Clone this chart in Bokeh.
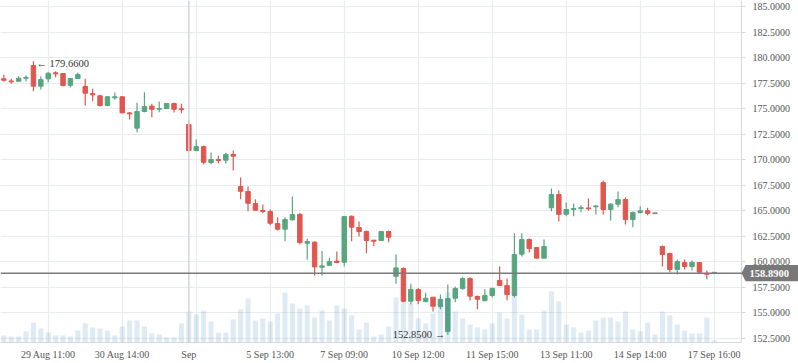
from bokeh.plotting import figure
from bokeh.models import (ColumnDataSource, FixedTicker, NumeralTickFormatter, Range1d, Span,
                          Label, BoxAnnotation, PolyAnnotation)
from bokeh.embed import file_html
from bokeh.resources import INLINE
from bokeh.core.properties import value

OPEN = [177.94, 177.70, 177.70, 178.00, 179.25, 177.22, 177.94, 178.53, 178.46, 177.31,
        177.97, 177.19, 176.50, 176.27, 175.32, 176.08, 176.18, 174.60, 173.10, 174.73,
        175.26, 174.96, 175.03, 175.52, 174.99, 173.46, 170.91, 171.30, 169.73, 170.03,
        169.96, 170.52, 167.38, 166.89, 165.71, 165.03, 164.93, 163.75, 163.20, 164.12,
        164.64, 161.83, 161.93, 159.47, 159.66, 160.07, 159.96, 164.47, 163.37, 162.97,
        162.12, 162.09, 162.97, 158.58, 159.35, 156.14, 157.29, 156.10, 156.53, 155.61,
        153.17, 156.43, 157.38, 158.36, 156.60, 156.20, 156.70, 158.17, 157.67, 156.70,
        160.75, 162.19, 161.40, 160.36, 165.30, 166.60, 164.66, 165.13, 165.23, 165.26,
        165.40, 167.77, 165.13, 165.65, 166.10, 164.14, 164.83, 165.00, 164.72, 161.50,
        160.82, 159.25, 159.93, 159.54, 159.93, 158.85, 158.89]
HIGH = [178.33, 177.94, 178.20, 178.26, 179.66, 178.20, 178.59, 178.69, 178.46, 177.97,
        178.56, 177.94, 176.96, 176.37, 176.24, 176.60, 176.20, 174.70, 175.59, 176.63,
        175.49, 175.72, 175.52, 175.59, 175.49, 173.85, 171.99, 171.40, 170.72, 170.39,
        170.69, 170.91, 168.27, 167.38, 166.14, 165.62, 165.13, 164.37, 164.37, 166.40,
        164.80, 162.26, 162.00, 161.07, 160.39, 161.00, 164.44, 164.54, 163.95, 163.07,
        162.16, 163.00, 163.07, 160.72, 159.44, 157.84, 157.42, 156.96, 156.53, 156.80,
        157.77, 157.58, 158.49, 158.49, 156.70, 157.30, 157.45, 159.54, 158.36, 162.80,
        162.80, 162.28, 161.40, 162.19, 167.19, 166.99, 165.81, 165.72, 165.55, 166.20,
        165.55, 167.97, 165.75, 166.89, 166.30, 164.93, 165.45, 165.30, 164.72, 161.60,
        160.90, 160.23, 160.23, 160.13, 159.93, 159.15, 158.89]
LOW = [177.68, 177.45, 177.70, 177.68, 176.73, 176.90, 177.60, 178.10, 177.22, 177.09,
       177.97, 175.32, 175.75, 175.22, 175.25, 175.90, 174.60, 173.95, 172.71, 174.67,
       174.18, 174.67, 174.96, 174.64, 174.57, 170.84, 170.84, 169.57, 169.57, 169.63,
       169.63, 168.95, 166.14, 164.96, 165.03, 164.76, 163.59, 163.07, 162.02, 164.05,
       161.70, 160.20, 158.66, 158.66, 159.57, 159.86, 159.54, 162.02, 162.48, 160.85,
       161.53, 162.05, 161.93, 157.84, 156.04, 155.83, 155.83, 156.04, 155.13, 155.35,
       152.85, 156.04, 157.26, 156.20, 155.35, 156.10, 156.50, 157.67, 156.20, 156.50,
       160.52, 160.91, 160.36, 160.36, 164.96, 163.95, 164.47, 164.47, 164.86, 165.00,
       164.63, 164.64, 164.04, 165.36, 163.66, 163.40, 164.73, 164.56, 164.72, 159.54,
       158.98, 158.75, 159.25, 159.15, 158.98, 158.30, 158.89]
CLOSE = [177.80, 177.65, 178.00, 178.05, 177.22, 177.87, 178.49, 178.43, 177.28, 177.97,
         178.36, 176.53, 176.37, 175.32, 176.18, 176.18, 174.60, 174.50, 174.73, 175.23,
         174.96, 175.00, 175.52, 174.96, 174.92, 170.91, 171.30, 169.76, 170.03, 169.93,
         170.52, 170.36, 166.92, 165.74, 165.06, 164.93, 163.78, 163.20, 164.14, 164.64,
         161.90, 161.99, 159.50, 159.60, 160.03, 159.93, 164.44, 163.40, 162.97, 162.09,
         162.02, 162.97, 162.41, 159.40, 156.14, 157.29, 156.20, 156.43, 155.65, 156.33,
         156.40, 157.38, 158.36, 156.63, 156.33, 156.70, 157.40, 157.67, 156.80, 160.72,
         162.19, 161.30, 160.36, 161.50, 166.60, 164.66, 165.13, 165.23, 165.30, 165.20,
         165.45, 165.13, 165.65, 166.10, 164.14, 164.83, 165.00, 164.76, 164.72, 160.72,
         159.25, 160.03, 159.54, 159.93, 158.98, 158.78, 158.89]
# volume, in units of 10k shares
VOLUME = [7, 6, 6, 11, 20, 14, 10, 7, 7, 6, 12, 19, 15, 14, 12, 7, 16, 22, 22, 16,
          9, 8, 5, 5, 19, 31, 28, 32, 21, 10, 10, 23, 33, 44, 22, 24, 21, 29, 50, 39,
          34, 37, 25, 32, 22, 37, 34, 27, 13, 20, 6, 8, 16, 45, 42, 39, 24, 19, 29, 42,
          50, 31, 24, 18, 15, 13, 19, 30, 24, 49, 28, 13, 13, 32, 51, 41, 18, 15, 10, 12,
          22, 25, 25, 21, 31, 13, 11, 20, 8, 31, 27, 18, 12, 9, 9, 25, 2]

TICK_POS = [6, 16, 25, 36, 46, 56, 66, 76, 86, 96]
TICK_LABELS = ["29 Aug 11:00", "30 Aug 14:00", "Sep", "5 Sep 13:00", "7 Sep 09:00",
               "10 Sep 12:00", "11 Sep 15:00", "13 Sep 11:00", "14 Sep 14:00", "17 Sep 16:00"]
GRID_POS = [6, 16, 26, 36, 46, 56, 66, 76, 86, 96]
PRICE_TICKS = [152.5, 155.0, 157.5, 160.0, 162.5, 165.0, 167.5, 170.0, 172.5, 175.0,
               177.5, 180.0, 182.5, 185.0]
LAST_PRICE = 158.89

UP = "#58a67f"
DOWN = "#e0574f"
FLAT = "#8a8a8a"
FONT = "Liberation Serif"
FS = "10px"

n = len(OPEN)
xs = list(range(n))
colors = []
tops = []
bottoms = []
for o, c in zip(OPEN, CLOSE):
    colors.append(UP if c > o else (DOWN if c < o else FLAT))
    t, b = max(o, c), min(o, c)
    if t - b < 0.08:
        t = b + 0.08
    tops.append(t)
    bottoms.append(b)

src = ColumnDataSource(dict(x=xs, open=OPEN, high=HIGH, low=LOW, close=CLOSE,
                            top=tops, bottom=bottoms, color=colors, vol=VOLUME))

# layout: bar pitch 7.4px, price axis drawn inside the frame at X_END
X_MIN = -0.45
X_END = 99.69
X_FULL = X_MIN + 798 / 7.4
p = figure(width=798, height=363, x_range=Range1d(X_MIN, X_FULL), y_range=Range1d(152.09, 185.62),
           y_axis_location="right", output_backend="svg", toolbar_location=None,
           min_border_left=0, min_border_top=0, min_border_right=0, min_border_bottom=21)
p.outline_line_color = None
p.background_fill_color = "white"

p.extra_y_ranges = {"vol": Range1d(0, max(VOLUME) * 342 / 51)}

# grid
p.xgrid.ticker = FixedTicker(ticks=GRID_POS)
p.ygrid.ticker = FixedTicker(ticks=PRICE_TICKS)
p.grid.grid_line_color = "#e9ecef"
p.grid.grid_line_width = 1.2

# blank strip behind the price scale
p.add_layout(BoxAnnotation(left=X_END, fill_color="white", fill_alpha=1.0, line_color=None,
                           level="underlay"))

# month marker line
p.add_layout(Span(location=TICK_POS[TICK_LABELS.index("Sep")], dimension="height",
                  line_color="#d2d5d9", line_width=1.5))

# candles
p.segment(x0="x", y0="low", x1="x", y1="high", color="color", line_width=1.2, source=src)
p.vbar(x="x", width=0.6, top="top", bottom="bottom", fill_color="color", line_color="color",
       line_width=1, source=src)

# volume
p.vbar(x="x", width=0.68, top="vol", bottom=0, y_range_name="vol", fill_color="#4a8ac4",
       fill_alpha=0.18, line_color=None, source=src)

# last price line
p.add_layout(Span(location=LAST_PRICE, dimension="width", line_color="#7a7a7a", line_width=1.5))

# high / low annotations
imax = HIGH.index(max(HIGH))
imin = LOW.index(min(LOW))
p.text(x=[imax + 0.4], y=[HIGH[imax]], text=[f"\u2190 {HIGH[imax]:.4f}"], text_align="left",
       text_baseline="middle", y_offset=2, text_font=value(FONT), text_font_size="10.5px",
       text_color="#333333")
p.text(x=[imin - 0.35], y=[LOW[imin]], text=[f"{LOW[imin]:.4f} \u2192"], text_align="right",
       text_baseline="middle", y_offset=0, text_font=value(FONT), text_font_size="10.5px",
       text_color="#333333")

# axes
ax = p.yaxis[0]
ax.fixed_location = X_END
ax.ticker = FixedTicker(ticks=PRICE_TICKS)
ax.formatter = NumeralTickFormatter(format="0.0000")
ax.major_label_text_font = FONT
ax.major_label_text_font_size = FS
ax.major_label_text_color = "#555555"
ax.axis_line_color = "#d5d9de"
ax.major_tick_line_color = "#d5d9de"
ax.major_tick_out = 4
ax.major_tick_in = 0
ax.minor_tick_out = 0
ax.minor_tick_in = 0
ax.major_label_standoff = 7

bx = p.xaxis[0]
bx.bounds = (X_MIN, X_END)
bx.ticker = FixedTicker(ticks=TICK_POS)
bx.major_label_overrides = {pos: lab for pos, lab in zip(TICK_POS, TICK_LABELS)}
bx.major_label_text_font = FONT
bx.major_label_text_font_size = FS
bx.major_label_text_color = "#555555"
bx.axis_line_color = "#d5d9de"
bx.major_tick_out = 0
bx.major_tick_in = 0
bx.minor_tick_out = 0
bx.minor_tick_in = 0
bx.major_label_standoff = 6

# last price tag on the price scale
tip = 0.55
half = 0.8
p.add_layout(PolyAnnotation(xs=[X_END, X_END + tip, X_FULL, X_FULL, X_END + tip],
                            ys=[LAST_PRICE, LAST_PRICE + half, LAST_PRICE + half,
                                LAST_PRICE - half, LAST_PRICE - half],
                            fill_color="#787878", fill_alpha=1.0, line_color=None))
p.add_layout(Label(x=X_END, y=LAST_PRICE, text=f"{LAST_PRICE:.4f}", text_align="left",
                   text_baseline="middle", x_offset=8, text_font=FONT,
                   text_font_size="10.5px", text_font_style="bold", text_color="white"))

open("out.html", "w").write(file_html(p, INLINE))
